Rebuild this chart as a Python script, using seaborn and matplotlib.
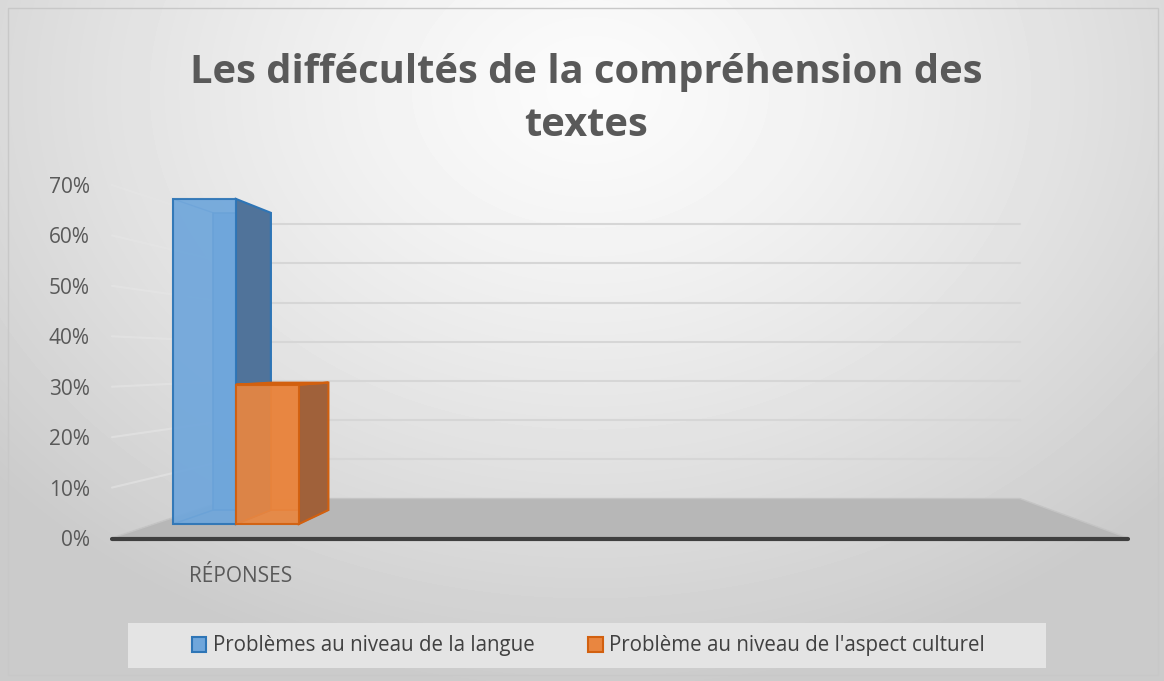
import numpy as np
import pandas as pd
import seaborn as sns
import matplotlib.pyplot as plt
from matplotlib.patches import Polygon, Rectangle, Patch
from matplotlib.transforms import Affine2D, IdentityTransform
from matplotlib.ticker import PercentFormatter

# data
categories = ['RÉPONSES', 'RÉPONSES']
series = ['Problèmes au niveau de la langue', "Problème au niveau de l'aspect culturel"]
values = [0.70, 0.30]
ytick_values = [0.0, 0.1, 0.2, 0.3, 0.4, 0.5, 0.6, 0.7]
title = 'Les diffécultés de la compréhension des\ntextes'

face_colors = ['#6fa6db', '#e98640']
side_colors = ['#50739a', '#a0613a']
edge_colors = ['#2e75b6', '#d2600f']

sns.set_style('white')
plt.rcParams['font.family'] = ['Open Sans', 'DejaVu Sans']

W, H = 1164, 681
fig = plt.figure(figsize=(W / 100, H / 100), dpi=100)

# grey radial background like the Excel chart area
bg = fig.add_axes([0, 0, 1, 1], zorder=-10)
yy, xx = np.mgrid[0:H, 0:W]
r = np.clip(np.hypot((xx - 590) / 780, (yy - 90) / 600), 0, 1)
bg.imshow(0.985 - 0.19 * r ** 1.3, cmap='gray', vmin=0, vmax=1, aspect='auto')
bg.axis('off')

ax = fig.add_axes([112 / W, (H - 538) / H, (1128 - 112) / W, (538 - 185) / H])
ax.set_facecolor('none')
df = pd.DataFrame({'category': categories, 'serie': series, 'value': values})
sns.barplot(data=df, x='category', y='value', hue='serie', palette=face_colors,
            width=0.8, ax=ax, legend=False, saturation=1)

px = 171.0  # pixels per category unit on the front plane
left = -(201 - 112) / px
ax.set_xlim(left, left + 1016 / px)
ax.set_ylim(0, 0.7)
ax.set_yticks(ytick_values)
ax.yaxis.set_major_formatter(PercentFormatter(1.0, decimals=0))
ax.tick_params(axis='y', length=0, pad=16, labelsize=15, labelcolor='#595959')
ax.set_xticks([])
ax.set_xlabel('')
ax.set_ylabel('')
sns.despine(ax=ax, left=True, bottom=True)

# simple perspective: points shrink towards a vanishing point
V = np.array([643.0, H - 361.0])


def proj(pts, s):
    return V + s * (np.asarray(pts) - V)


def persp(s):
    return Affine2D().translate(-V[0], -V[1]).scale(s).translate(V[0], V[1])


ident = IdentityTransform()
x0, x1 = ax.get_xlim()

# floor
front = ax.transData.transform([(x0, 0), (x1, 0)])
back = proj(front, 0.777)
ax.add_patch(Polygon([front[0], front[1], back[1], back[0]], closed=True,
                     transform=ident, facecolor='#b7b7b7', edgecolor='#c4c4c4',
                     lw=1, zorder=0.5, clip_on=False))
ax.plot(front[:, 0], front[:, 1] - 1, transform=ident, color='#3f3f3f',
        lw=3, solid_capstyle='round', zorder=0.6, clip_on=False)

# back wall and side wall gridlines
for t in ytick_values[1:]:
    fr = ax.transData.transform([(x0, t), (x1, t)])
    bk = proj(fr, 0.777)
    ax.plot(bk[:, 0], bk[:, 1], transform=ident, color='#d6d6d6', lw=1.5,
            zorder=0.3, clip_on=False)
    ax.plot([fr[0, 0], bk[0, 0]], [fr[0, 1], bk[0, 1]], transform=ident,
            color='#e6e6e6', lw=1.5, alpha=0.6, zorder=0.3, clip_on=False)

# 3d-looking bars built from seaborn's bars
sf, sb = 0.921, 0.842
for i, bar in enumerate(ax.patches[:len(values)]):
    bx, by = bar.get_x(), bar.get_y()
    bw, bh = bar.get_width(), bar.get_height()
    rect = ax.transData.transform([(bx, by), (bx + bw, by), (bx + bw, by + bh), (bx, by + bh)])
    f = proj(rect, sf)
    b = proj(rect, sb)
    z = 1 + i
    ax.add_patch(Polygon(b, closed=True, transform=ident, facecolor=face_colors[i],
                         edgecolor=edge_colors[i], lw=1.2, alpha=0.9, zorder=z + 0.1,
                         clip_on=False))
    for a in [(0, 3), (0, 1)]:
        ax.add_patch(Polygon([f[a[0]], b[a[0]], b[a[1]], f[a[1]]], closed=True,
                             transform=ident, facecolor='none', edgecolor=edge_colors[i],
                             lw=1, alpha=0.6, zorder=z + 0.2, clip_on=False))
    ax.add_patch(Polygon([f[1], b[1], b[2], f[2]], closed=True, transform=ident,
                         facecolor=side_colors[i], edgecolor=edge_colors[i], lw=1.5,
                         zorder=z + 0.3, clip_on=False))
    if f[2, 1] < V[1]:
        ax.add_patch(Polygon([f[3], f[2], b[2], b[3]], closed=True, transform=ident,
                             facecolor=face_colors[i], edgecolor=edge_colors[i], lw=1.5,
                             zorder=z + 0.35, clip_on=False))
    bar.set_transform(ax.transData + persp(sf))
    bar.set_alpha(0.92)
    bar.set_edgecolor(edge_colors[i])
    bar.set_linewidth(1.5)
    bar.set_zorder(z + 0.4)
    bar.set_clip_on(False)

fig.text(241 / W, 1 - 577 / H, categories[0], ha='center', va='center',
         fontsize=15, color='#595959')

fig.text(586 / W, 1 - 99 / H, title, ha='center', va='center', fontsize=28.7,
         fontweight='bold', color='#595959', linespacing=1.45)

# legend
fig.patches.append(Rectangle((128 / W, 1 - 668 / H), (1046 - 128) / W, 45 / H,
                             transform=fig.transFigure, facecolor='#e4e4e4',
                             edgecolor='none', zorder=0))
handles = [Patch(facecolor=face_colors[i], edgecolor=edge_colors[i], lw=1.5)
           for i in range(len(series))]
fig.legend(handles, series, loc='center', bbox_to_anchor=(588 / W, 1 - 646 / H),
           ncol=2, frameon=False, fontsize=14.8, labelcolor='#404040',
           handlelength=0.72, handleheight=0.72, handletextpad=0.3, columnspacing=2.6)

fig.patches.append(Rectangle((8 / W, 6 / H), (1150) / W, (H - 14) / H,
                             transform=fig.transFigure, facecolor='none',
                             edgecolor='#c8c8c8', lw=1, zorder=0))

fig.savefig('out.png', dpi=100)
